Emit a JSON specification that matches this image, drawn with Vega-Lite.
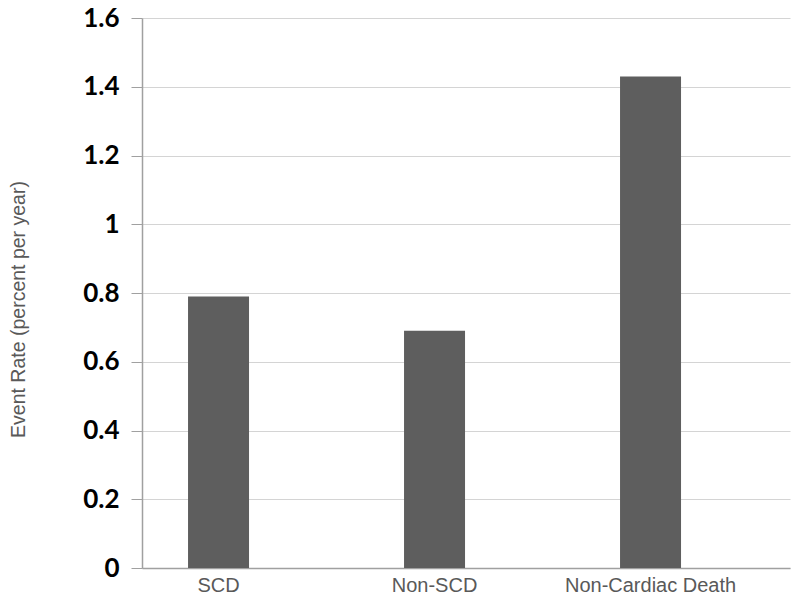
{
  "$schema": "https://vega.github.io/schema/vega-lite/v6.json",
  "autosize": "none",
  "width": 648,
  "height": 550,
  "padding": {"left": 142, "top": 18, "right": 10, "bottom": 34},
  "background": "white",
  "config": {"view": {"stroke": null}},
  "data": {
    "values": [
      {"category": "SCD", "rate": 0.79},
      {"category": "Non-SCD", "rate": 0.69},
      {"category": "Non-Cardiac Death", "rate": 1.43}
    ]
  },
  "mark": {"type": "bar", "color": "#5e5e5e"},
  "encoding": {
    "x": {
      "field": "category",
      "type": "nominal",
      "sort": null,
      "scale": {"paddingInner": 0.7176, "paddingOuter": 0.3588, "align": 0.297},
      "axis": {
        "title": null,
        "labelAngle": 0,
        "ticks": false,
        "domainColor": "#a0a0a0",
        "domainWidth": 1.5,
        "labelFont": "Liberation Sans",
        "labelFontSize": 20,
        "labelColor": "#595959",
        "labelPadding": 7
      }
    },
    "y": {
      "field": "rate",
      "type": "quantitative",
      "scale": {"domain": [0, 1.6], "nice": false},
      "axis": {
        "values": [0, 0.2, 0.4, 0.6, 0.8, 1, 1.2, 1.4, 1.6],
        "format": "~g",
        "title": "Event Rate (percent per year)",
        "titleFont": "Liberation Sans",
        "titleFontSize": 19.5,
        "titleFontWeight": "normal",
        "titleColor": "#595959",
        "titleX": -124,
        "titleY": 291,
        "titleAngle": -90,
        "titleAlign": "center",
        "titleBaseline": "middle",
        "labelFont": "Lato",
        "labelFontWeight": "bold",
        "labelFontSize": 26,
        "labelColor": "#000000",
        "labelPadding": 12,
        "tickSize": 11,
        "tickColor": "#a0a0a0",
        "domainColor": "#a0a0a0",
        "domainWidth": 1.5,
        "gridColor": "#d4d4d4",
        "gridWidth": 1.2
      }
    }
  }
}
